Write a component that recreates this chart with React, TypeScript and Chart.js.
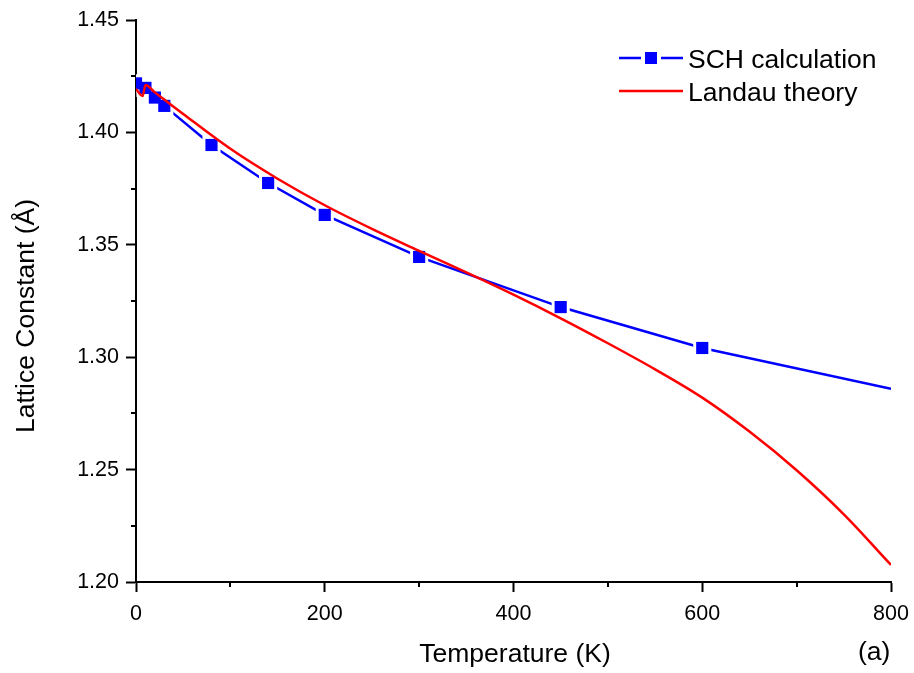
import React, { useEffect, useRef } from 'react';
import { Chart, registerables } from 'chart.js';

Chart.register(...registerables);

// SCH calculation (markers at computed temperatures, line continues to 800 K)
const schTemperature = [0, 10, 20, 30, 80, 140, 200, 300, 450, 600, 800];
const schLattice = [1.4218, 1.4198, 1.4155, 1.4118, 1.3944, 1.3775, 1.3633, 1.3446, 1.3223, 1.3041, 1.2859];
const schHasMarker = [true, true, true, true, true, true, true, true, true, true, false];

// Landau theory curve
const landauTemperature = [0, 7, 10, 20, 30, 50, 100, 150, 200, 250, 300, 350, 400, 450, 500, 550, 600, 650, 700, 750, 800];
const landauLattice = [1.4193, 1.4162, 1.4211, 1.4178, 1.4146, 1.4082, 1.3927, 1.3794, 1.3676, 1.3571, 1.3473, 1.3377, 1.3278, 1.3173, 1.3062, 1.2946, 1.2820, 1.2669, 1.2497, 1.2301, 1.2076];

const xTicks = [0, 200, 400, 600, 800];
const xMinorTicks = [100, 300, 500, 700];
const yTicks = [1.2, 1.25, 1.3, 1.35, 1.4, 1.45];
const yMinorTicks = [1.225, 1.275, 1.325, 1.375, 1.425];

const seriesNames = ['SCH calculation', 'Landau theory'];
const xTitle = 'Temperature (K)';
const yTitle = 'Lattice Constant (Å)';
const panelLabel = '(a)';

const FONT = '"Liberation Sans", Arial, sans-serif';
const BLUE = '#0000ff';
const RED = '#ff0000';

export default function App() {
  const ref = useRef<HTMLCanvasElement>(null);

  useEffect(() => {
    if (!ref.current) return;
    const schLine = schTemperature.map((x, i) => ({ x, y: schLattice[i] }));
    const schMarkers = schLine.filter((_, i) => schHasMarker[i]);
    const landau = landauTemperature.map((x, i) => ({ x, y: landauLattice[i] }));

    const decor = {
      id: 'decor',
      afterDraw(chart: any) {
        const { ctx, chartArea } = chart;
        const xs = chart.scales.x;
        const ys = chart.scales.y;
        ctx.save();
        ctx.strokeStyle = '#000';
        ctx.lineWidth = 2;
        xMinorTicks.forEach((v) => {
          const px = Math.round(xs.getPixelForValue(v));
          ctx.beginPath();
          ctx.moveTo(px, chartArea.bottom);
          ctx.lineTo(px, chartArea.bottom + 5);
          ctx.stroke();
        });
        yMinorTicks.forEach((v) => {
          const py = Math.round(ys.getPixelForValue(v));
          ctx.beginPath();
          ctx.moveTo(chartArea.left, py);
          ctx.lineTo(chartArea.left - 5, py);
          ctx.stroke();
        });

        ctx.fillStyle = '#000';
        ctx.font = `26.5px ${FONT}`;
        ctx.textBaseline = 'alphabetic';
        ctx.textAlign = 'center';
        ctx.fillText(xTitle, 515, 662);
        ctx.textAlign = 'left';
        ctx.fillText(panelLabel, 858, 660);

        ctx.save();
        ctx.translate(34, 316);
        ctx.rotate(-Math.PI / 2);
        ctx.textAlign = 'center';
        ctx.fillText(yTitle, 0, 0);
        ctx.restore();

        // legend
        ctx.lineWidth = 2.5;
        ctx.strokeStyle = BLUE;
        ctx.beginPath();
        ctx.moveTo(619, 58);
        ctx.lineTo(641, 58);
        ctx.moveTo(661, 58);
        ctx.lineTo(683, 58);
        ctx.stroke();
        ctx.fillStyle = BLUE;
        ctx.fillRect(645, 52, 12, 12);
        ctx.strokeStyle = RED;
        ctx.beginPath();
        ctx.moveTo(619, 91);
        ctx.lineTo(683, 91);
        ctx.stroke();
        ctx.fillStyle = '#000';
        ctx.textAlign = 'left';
        ctx.fillText(seriesNames[0], 688, 67.5);
        ctx.fillText(seriesNames[1], 688, 100.5);
        ctx.restore();
      },
    };

    const chart = new Chart(ref.current, {
      type: 'scatter',
      data: {
        datasets: [
          {
            label: seriesNames[1],
            data: landau,
            showLine: true,
            borderColor: RED,
            borderWidth: 2.5,
            pointRadius: 0,
            cubicInterpolationMode: 'monotone',
            order: 0,
          },
          {
            label: seriesNames[0] + ' markers',
            data: schMarkers,
            showLine: false,
            pointStyle: 'rect',
            pointRadius: 8.6,
            backgroundColor: BLUE,
            borderColor: BLUE,
            borderWidth: 0,
            order: 1,
          },
          {
            label: 'gap',
            data: schMarkers,
            showLine: false,
            pointStyle: 'rect',
            pointRadius: 12.8,
            backgroundColor: '#ffffff',
            borderColor: '#ffffff',
            borderWidth: 0,
            order: 2,
          },
          {
            label: seriesNames[0],
            data: schLine,
            showLine: true,
            borderColor: BLUE,
            borderWidth: 2.5,
            pointRadius: 0,
            tension: 0,
            order: 3,
          },
        ],
      },
      options: {
        animation: false,
        responsive: false,
        layout: { padding: { left: 0, right: 23, top: 20, bottom: 0 } },
        plugins: { legend: { display: false }, tooltip: { enabled: false } },
        scales: {
          x: {
            type: 'linear',
            min: 0,
            max: 800,
            afterBuildTicks: (s: any) => {
              s.ticks = xTicks.map((v) => ({ value: v }));
            },
            afterFit: (s: any) => {
              s.height = 91;
              s.paddingLeft = 0;
              s.paddingRight = 0;
            },
            ticks: { font: { family: FONT, size: 21.5 }, color: '#000', padding: 9, maxRotation: 0 },
            grid: { drawOnChartArea: false, tickLength: 10, tickWidth: 2, tickColor: '#000' },
            border: { color: '#000', width: 2 },
          },
          y: {
            type: 'linear',
            min: 1.2,
            max: 1.45,
            afterBuildTicks: (s: any) => {
              s.ticks = yTicks.map((v) => ({ value: v }));
            },
            afterFit: (s: any) => {
              s.width = 136;
              s.paddingTop = 0;
              s.paddingBottom = 0;
            },
            ticks: {
              font: { family: FONT, size: 21.5 },
              color: '#000',
              padding: 7,
              callback: (v: any) => Number(v).toFixed(2),
            },
            grid: { drawOnChartArea: false, tickLength: 10, tickWidth: 2, tickColor: '#000' },
            border: { color: '#000', width: 2 },
          },
        },
      },
      plugins: [decor],
    } as any);

    return () => chart.destroy();
  }, []);

  return (
    <div style={{ position: 'absolute', left: 0, top: 0, width: 914, height: 673, background: '#fff' }}>
      <canvas ref={ref} width={914} height={673} style={{ display: 'block' }} />
    </div>
  );
}
